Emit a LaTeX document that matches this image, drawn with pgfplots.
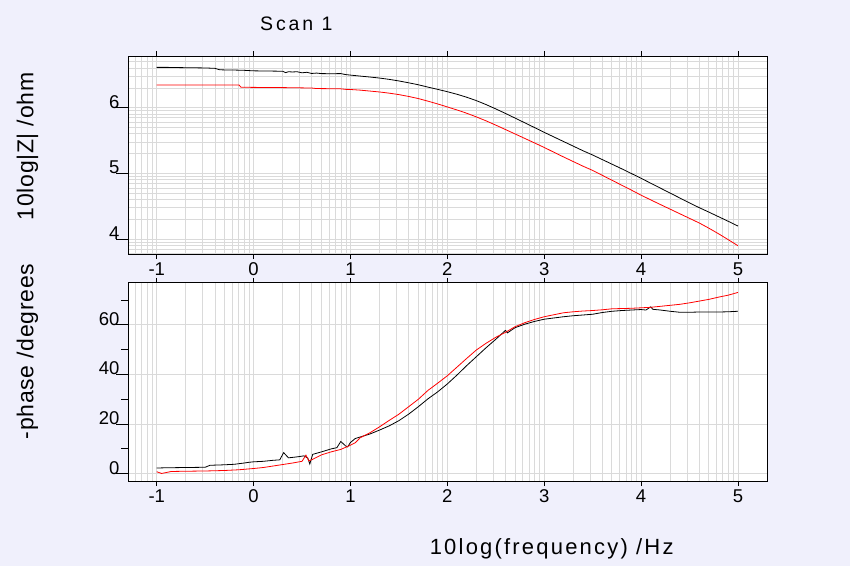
\documentclass[border=0pt]{standalone}
\usepackage{fontspec}
\setmainfont{Liberation Sans}
\usepackage{pgfplots}
\pgfplotsset{compat=1.18}
\definecolor{bgc}{RGB}{240,240,252}
\definecolor{gridc}{RGB}{218,218,218}
\pgfplotsset{
  eisaxis/.style={
    scale only axis, width=639pt, height=198pt, anchor=south west,
    xmin=-1.2966, xmax=5.3,
    axis background/.style={fill=white},
    axis line style={black, line width=1pt},
    tick align=outside, major tick length=5pt, minor tick length=0pt,
    xtick={-1,0,1,2,3,4,5}, xticklabels={-1,0,1,2,3,4,5},
    minor xtick={-1.222,-1.155,-1.097,-1.046,
      -0.699,-0.523,-0.398,-0.301,-0.222,-0.155,-0.097,-0.046,
      0.301,0.477,0.602,0.699,0.778,0.845,0.903,0.954,
      1.301,1.477,1.602,1.699,1.778,1.845,1.903,1.954,
      2.301,2.477,2.602,2.699,2.778,2.845,2.903,2.954,
      3.301,3.477,3.602,3.699,3.778,3.845,3.903,3.954,
      4.301,4.477,4.602,4.699,4.778,4.845,4.903,4.954},
    grid=both,
    major grid style={gridc, line width=0.9pt},
    minor grid style={gridc, line width=0.9pt},
    tick style={black, line width=0.9pt},
    ytick style={draw=none},
    ticklabel style={font=\fontsize{18.5}{21}\selectfont},
    /pgf/number format/assume math mode=true,
    yticklabel style={yshift=6pt},
    clip=true,
  },
  zline/.style={line width=0.8pt, sharp plot, no marks},
}
\begin{document}
\begin{tikzpicture}
\fill[bgc] (0,0) rectangle (850pt,566pt);
\useasboundingbox (0,0) rectangle (850pt,566pt);

% ---------- top: |Z| ----------
\begin{axis}[eisaxis, at={(128pt,312pt)},
  ymin=3.772, ymax=6.788,
  ytick={4,5,6}, yticklabels={4,5,6},
  minor ytick={3.778,3.845,3.903,3.954,
    4.301,4.477,4.602,4.699,4.778,4.845,4.903,4.954,
    5.301,5.477,5.602,5.699,5.778,5.845,5.903,5.954,
    6.301,6.477,6.602,6.699,6.778},
  after end axis/.code={
    \draw[black,line width=0.9pt] (axis cs:-1.2966,4) -- ++(-12pt,0);
    \draw[black,line width=0.9pt] (axis cs:-1.2966,5) -- ++(-12pt,0);
    \draw[black,line width=0.9pt] (axis cs:-1.2966,6) -- ++(-12pt,0);
  }]
\addplot[zline, black] coordinates {
(-1.0,6.615) (-0.9,6.615) (-0.8,6.612) (-0.7,6.610) (-0.6,6.608) (-0.5,6.606)
(-0.4,6.600) (-0.35,6.578) (-0.3,6.576) (-0.2,6.574) (-0.1,6.570) (0.0,6.562)
(0.1,6.560) (0.2,6.558) (0.3,6.556) (0.33,6.535) (0.36,6.548) (0.4,6.545)
(0.45,6.548) (0.5,6.532) (0.55,6.540) (0.6,6.522) (0.65,6.528) (0.7,6.520)
(0.8,6.518) (0.9,6.520) (0.95,6.505) (1.0,6.497) (1.1,6.482) (1.2,6.468)
(1.3,6.452) (1.4,6.432) (1.5,6.408) (1.6,6.380) (1.7,6.350) (1.8,6.314)
(1.9,6.280) (2.0,6.244) (2.1,6.205) (2.2,6.160) (2.3,6.108) (2.4,6.048)
(2.5,5.982) (2.6,5.913) (2.7,5.842) (2.8,5.770) (2.9,5.698) (3.0,5.625)
(3.1,5.555) (3.2,5.485) (3.3,5.415) (3.4,5.345) (3.5,5.280) (3.6,5.210)
(3.7,5.140) (3.8,5.070) (3.9,4.998) (4.0,4.925) (4.1,4.850) (4.2,4.775)
(4.3,4.700) (4.4,4.625) (4.5,4.550) (4.6,4.478) (4.7,4.410) (4.8,4.340)
(4.9,4.270) (5.0,4.198)
};
\addplot[zline, red] coordinates {
(-1.0,6.346) (-0.8,6.346) (-0.6,6.346) (-0.4,6.346) (-0.15,6.345) (-0.13,6.312)
(0.0,6.310) (0.2,6.308) (0.4,6.305) (0.6,6.300) (0.65,6.292) (0.8,6.290)
(0.9,6.288) (0.95,6.280) (1.0,6.278) (1.1,6.268) (1.2,6.254) (1.3,6.240)
(1.4,6.222) (1.5,6.200) (1.6,6.172) (1.7,6.140) (1.8,6.100) (1.9,6.058)
(2.0,6.012) (2.1,5.966) (2.2,5.916) (2.3,5.860) (2.4,5.800) (2.5,5.735)
(2.6,5.668) (2.7,5.600) (2.8,5.532) (2.9,5.464) (3.0,5.395) (3.1,5.322)
(3.2,5.250) (3.3,5.180) (3.4,5.110) (3.5,5.045) (3.6,4.970) (3.7,4.895)
(3.8,4.820) (3.9,4.745) (4.0,4.668) (4.1,4.596) (4.2,4.525) (4.3,4.455)
(4.4,4.385) (4.5,4.315) (4.6,4.245) (4.7,4.165) (4.8,4.080) (4.9,3.990)
(5.0,3.898)
};
\end{axis}

% ---------- bottom: phase ----------
\begin{axis}[eisaxis, at={(128pt,85pt)},
  ymin=-2.94, ymax=76.9,
  ytick={0,20,40,60}, yticklabels={0,20,40,60},
  after end axis/.code={
    \foreach \v in {0,20,40,60}{\draw[black,line width=0.9pt] (axis cs:-1.2966,\v) -- ++(-12pt,0);}
    \foreach \v in {10,30,50,70}{\draw[black,line width=0.9pt] (axis cs:-1.2966,\v) -- ++(-7pt,0);}
  }]
\addplot[zline, black] coordinates {
(-1.0,2.3) (-0.9,2.4) (-0.7,2.5) (-0.5,2.6) (-0.45,3.4) (-0.3,3.6) (-0.2,3.8)
(-0.1,4.3) (-0.05,4.6) (0.0,4.8) (0.1,5.0) (0.2,5.4) (0.27,5.6) (0.31,8.5)
(0.36,6.4) (0.45,6.8) (0.52,7.2) (0.56,6.3) (0.58,3.9) (0.61,7.8) (0.7,8.8)
(0.8,10.0) (0.86,10.5) (0.9,13.0) (0.95,11.2) (0.97,10.8) (1.0,12.6)
(1.05,14.2) (1.1,14.8) (1.2,16.0) (1.3,17.6) (1.4,19.3) (1.5,21.4) (1.6,24.0)
(1.7,27.0) (1.8,30.2) (1.9,33.0) (2.0,36.2) (2.1,39.8) (2.2,43.6) (2.3,47.2)
(2.4,50.8) (2.5,54.2) (2.55,56.0) (2.6,57.8) (2.62,56.8) (2.7,58.9) (2.8,60.3)
(2.9,61.4) (3.0,62.3) (3.1,62.8) (3.2,63.3) (3.3,63.7) (3.4,64.0) (3.5,64.3)
(3.6,65.0) (3.7,65.5) (3.8,65.8) (3.9,66.0) (4.0,66.2) (4.05,66.0) (4.1,67.3)
(4.12,66.3) (4.2,66.0) (4.3,65.5) (4.4,65.1) (4.5,65.1) (4.6,65.2) (4.7,65.2)
(4.8,65.2) (4.9,65.3) (5.0,65.5)
};
\addplot[zline, red] coordinates {
(-1.0,0.8) (-0.95,0.1) (-0.85,0.9) (-0.7,1.0) (-0.5,1.1) (-0.3,1.3) (-0.15,1.6)
(0.0,2.1) (0.1,2.5) (0.2,3.1) (0.3,3.7) (0.4,4.3) (0.5,5.0) (0.54,7.5)
(0.57,5.2) (0.6,5.6) (0.7,7.6) (0.8,8.8) (0.9,9.8) (1.0,11.5) (1.05,12.5)
(1.1,14.5) (1.2,16.5) (1.3,18.9) (1.4,21.5) (1.5,24.0) (1.6,27.0) (1.7,30.0)
(1.8,33.6) (1.9,36.5) (2.0,39.5) (2.1,43.0) (2.2,46.5) (2.3,49.9) (2.4,52.6)
(2.5,55.0) (2.6,57.0) (2.7,59.3) (2.8,60.9) (2.9,62.2) (3.0,63.3) (3.1,64.1)
(3.2,64.9) (3.3,65.3) (3.4,65.6) (3.5,65.8) (3.6,66.1) (3.7,66.5) (3.8,66.6)
(3.9,66.7) (4.0,66.9) (4.1,67.1) (4.2,67.5) (4.3,67.9) (4.4,68.3) (4.5,68.9)
(4.6,69.6) (4.7,70.3) (4.8,71.2) (4.9,72.0) (5.0,73.1)
};
\end{axis}

% ---------- titles / labels ----------
\node[anchor=base, inner sep=0pt, font=\fontsize{19.5}{23}\selectfont\addfontfeatures{LetterSpace=15}] at (296.3pt,535.3pt) {Scan 1};
\node[anchor=base, inner sep=0pt, font=\fontsize{22}{26}\selectfont\addfontfeatures{LetterSpace=10}] at (551.7pt,11.7pt) {10log(frequency) /Hz};
\node[anchor=base, rotate=90, inner sep=0pt, font=\fontsize{23}{27}\selectfont\addfontfeatures{LetterSpace=3}] at (33.3pt,419.5pt) {10log|Z| /ohm};
\node[anchor=base, rotate=90, inner sep=0pt, font=\fontsize{23}{27}\selectfont\addfontfeatures{LetterSpace=3}] at (33.3pt,214.5pt) {-phase /degrees};
\end{tikzpicture}
\end{document}
